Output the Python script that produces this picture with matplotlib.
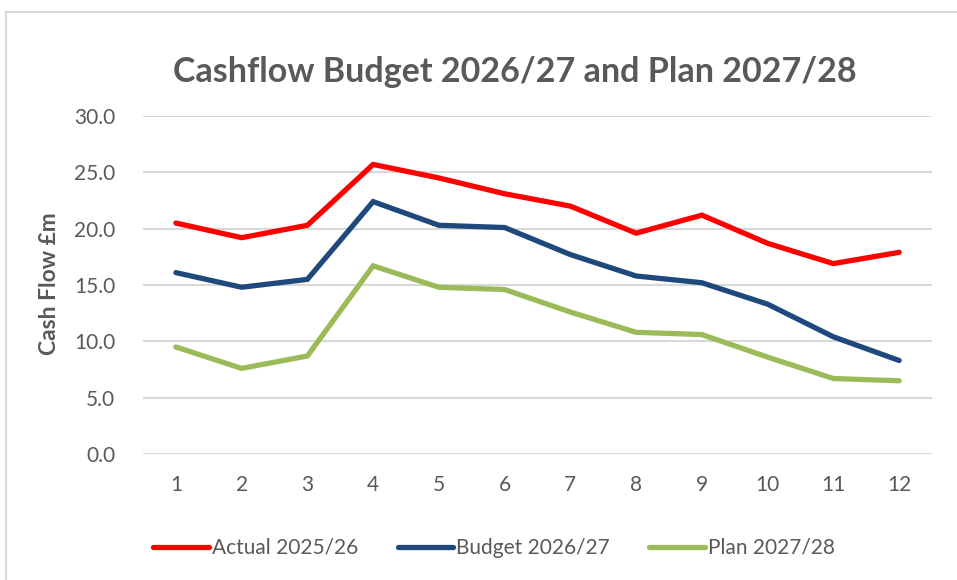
import matplotlib.pyplot as plt
from matplotlib.lines import Line2D

# ---- data ----
months = [1, 2, 3, 4, 5, 6, 7, 8, 9, 10, 11, 12]
actual = [20.5, 19.2, 20.3, 25.7, 24.5, 23.1, 22.0, 19.6, 21.2, 18.7, 16.9, 17.9]
budget = [16.1, 14.8, 15.5, 22.4, 20.3, 20.1, 17.7, 15.8, 15.2, 13.3, 10.4, 8.3]
plan = [9.5, 7.6, 8.7, 16.7, 14.8, 14.6, 12.6, 10.8, 10.6, 8.6, 6.7, 6.5]
y_ticks = [0, 5, 10, 15, 20, 25, 30]

series_labels = ['Actual 2025/26', 'Budget 2026/27', 'Plan 2027/28']
colors = ['#FF0000', '#1F497D', '#9BBB59']

text_col = '#595959'
grid_col = '#D9D9D9'
W, H = 957, 580

plt.rcParams['font.family'] = ['Lato', 'DejaVu Sans']

fig = plt.figure(figsize=(W / 100, H / 100), dpi=100)
ax = fig.add_axes([143 / W, 1 - 454 / H, (932 - 143) / W, (454 - 116) / H])

for vals, lab, c in zip([actual, budget, plan], series_labels, colors):
    ax.plot(months, vals, color=c, lw=3.8, label=lab,
            solid_joinstyle='miter', solid_capstyle='round', zorder=3)

ax.set_xlim(0.5, 12.5)
ax.set_ylim(0, 30)
ax.set_yticks(y_ticks)
ax.set_yticklabels([f'{v:.1f}' for v in y_ticks])
ax.set_xticks(months)
ax.set_xticklabels([str(m) for m in months])
ax.tick_params(length=0, labelsize=15, labelcolor=text_col)
ax.tick_params(axis='y', pad=20)
ax.tick_params(axis='x', pad=15)
ax.grid(axis='y', color=grid_col, lw=1.5)
ax.set_axisbelow(True)
for s in ax.spines.values():
    s.set_visible(False)

ax.set_ylabel('Cash Flow £m', fontsize=16.5, fontweight='bold', color=text_col, va='center')
ax.yaxis.set_label_coords((50 - 143) / (932 - 143), 0.503)

fig.text(515 / W, 1 - 72 / H, 'Cashflow Budget 2026/27 and Plan 2027/28',
         ha='center', va='center', fontsize=24.5, fontweight='bold', color=text_col)

leg = fig.legend(loc='center', bbox_to_anchor=(494 / W, 1 - 548 / H), ncol=3,
                 frameon=False, fontsize=15, handlelength=2.65, handletextpad=0.15,
                 columnspacing=1.9)
for t in leg.get_texts():
    t.set_color(text_col)

# chart border (light gray frame running off the right and bottom edges)
fig.add_artist(Line2D([5.5 / W, 5.5 / W], [0, 1 - 12 / H], color=grid_col, lw=1.5,
                      transform=fig.transFigure))
fig.add_artist(Line2D([5.5 / W, 1], [1 - 12 / H, 1 - 12 / H], color=grid_col, lw=1.5,
                      transform=fig.transFigure))

fig.savefig('out.png', dpi=100)
